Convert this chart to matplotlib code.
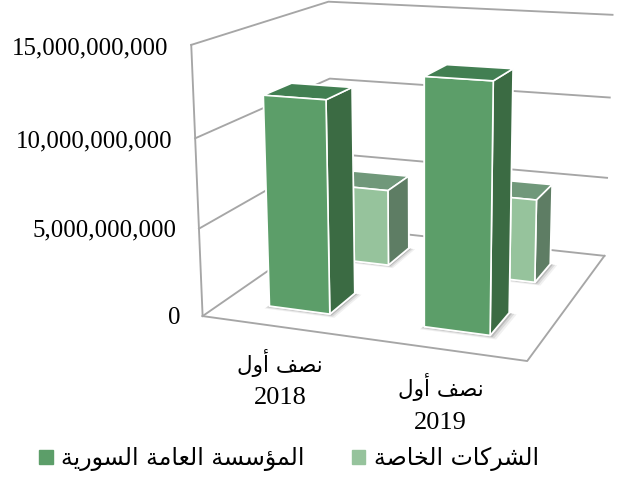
# 3D column chart, two series and two half-year categories.
# Camera values were fitted to the frame corners of the reference.
import matplotlib
matplotlib.use('Agg')
import matplotlib.pyplot as plt
from matplotlib.patches import Patch
from mpl_toolkits.mplot3d import proj3d
from mpl_toolkits.mplot3d.art3d import Poly3DCollection

# Data
periods = ['نصف أول', 'نصف أول']
years = ['2018', '2019']
syrian_corp = [12.0e9, 13.6e9]     # front row
private_cos = [4.7e9, 5.0e9]       # back row
series_names = ['المؤسسة العامة السورية', 'الشركات الخاصة']
z_ticks = [0, 5e9, 10e9, 15e9]
z_labels = ['0', '5,000,000,000', '10,000,000,000', '15,000,000,000']

# Colours: front, top, side
dark = ['#5C9E69', '#427F52', '#3B6B43']
light = ['#96C39C', '#70987A', '#5E7D64']
grid_col = '#A6A6A6'

# Arabic presentation forms: isolated, final, initial, medial.
# matplotlib does no shaping so the joining is done here.
FORMS = {
    'ا': 'ﺍﺎ', 'أ': 'ﺃﺄ', 'ؤ': 'ﺅﺆ', 'و': 'ﻭﻮ', 'ر': 'ﺭﺮ', 'ة': 'ﺓﺔ',
    'ص': 'ﺹﺺﺻﺼ', 'ف': 'ﻑﻒﻓﻔ', 'ل': 'ﻝﻞﻟﻠ', 'م': 'ﻡﻢﻣﻤ', 'ن': 'ﻥﻦﻧﻨ',
    'س': 'ﺱﺲﺳﺴ', 'ع': 'ﻉﻊﻋﻌ', 'ي': 'ﻱﻲﻳﻴ', 'ش': 'ﺵﺶﺷﺸ', 'ك': 'ﻙﻚﻛﻜ',
    'ت': 'ﺕﺖﺗﺘ', 'خ': 'ﺥﺦﺧﺨ',
}

def shape(text):
    out = []
    for i, ch in enumerate(text):
        if ch not in FORMS:
            out.append(ch)
            continue
        prev = text[i-1] if i > 0 else ' '
        nxt = text[i+1] if i < len(text)-1 else ' '
        join_prev = prev in FORMS and len(FORMS[prev]) == 4
        join_next = nxt in FORMS and len(FORMS[ch]) == 4
        idx = (1 if join_prev else 0) + (2 if join_next else 0)
        out.append(FORMS[ch][idx])
    return ''.join(out)[::-1]

plt.rcParams['font.family'] = ['Liberation Serif', 'DejaVu Sans']

fig = plt.figure(figsize=(6.17, 4.79), dpi=100)
ax = fig.add_axes([79.2/617, 78.14/479, 1, 1], projection='3d', computed_zorder=False)
ax.set_xticks([])
ax.set_yticks([])
ax.set_zticks([])
ax.set_axis_off()
ax.view_init(14.0079, -69.0235, 0.3201)
ax.set_proj_type('persp', focal_length=0.5258)
ax.set_box_aspect((3.9161, 3.8068, 3.2007))
ax.set_xlim(0.7119-1, 0.7119+1)
ax.set_ylim(1.3891-1, 1.3891+1)
ax.set_zlim((6.7319-7.5)*1e9, (6.7319+7.5)*1e9)

x_max = len(years)
y_max = len(series_names)
z_max = z_ticks[-1]

# walls and floor
line_kw = dict(color=grid_col, lw=1.35, zorder=1)
for z in z_ticks:
    ax.plot([0, 0, x_max], [0, y_max, y_max], [z, z, z], **line_kw)
ax.plot([0, 0], [0, 0], [0, z_max], **line_kw)
ax.plot([0, x_max, x_max], [0, 0, y_max], [0, 0, 0], **line_kw)

bar_w = 0.4
order = 2

def draw_series(values, row, cols):
    for i, v in enumerate(values):
        x0 = i + 0.5 - bar_w/2
        y0 = row + 0.5 - bar_w/2
        # soft shadow on the floor
        for grow, a in [(0.05, 0.06), (0.035, 0.09), (0.02, 0.14)]:
            x1, x2 = x0 - grow*0.2, x0 + bar_w + grow
            y1, y2 = y0 - grow, y0 + bar_w - grow*0.2
            ax.add_collection3d(Poly3DCollection(
                [[(x1, y1, 0), (x2, y1, 0), (x2, y2, 0), (x1, y2, 0)]],
                facecolor='black', edgecolor='none', alpha=a, zorder=order))
        # faces: bottom, top, front, back, left, right
        face_cols = [cols[0], cols[1], cols[0], cols[2], cols[0], cols[2]]
        bar = ax.bar3d(x0, y0, 0, bar_w, bar_w, v, color=face_cols, shade=False,
                       edgecolor='white', linewidth=1.2, zsort='max')
        bar.set_zorder(order + 1)

draw_series(private_cos, 1, light)
order = 4
draw_series(syrian_corp, 0, dark)

# labels are anchored on a 3D point but drawn as plain 2D text
def label_at(x, y, z, s, **kw):
    xp, yp, _ = proj3d.proj_transform(x, y, z, ax.get_proj())
    ax.text2D(xp, yp, s, transform=ax.transData, color='black', **kw)

for z, lab in zip(z_ticks, z_labels):
    label_at(-0.15, 0, z - 0.27e9, lab, ha='right', va='center', fontsize=17.9)

for i, (per, yr) in enumerate(zip(periods, years)):
    label_at(i + 0.5, 0, -2.1e9, shape(per), ha='center', va='center',
             fontsize=15.5, family='DejaVu Sans')
    label_at(i + 0.5, 0, -4.1e9, yr, ha='center', va='center', fontsize=19)

handles = [Patch(color=dark[0]), Patch(color=light[0])]
fig.legend(handles, [shape(s) for s in series_names], ncols=2, frameon=False,
           loc='center', bbox_to_anchor=(0.468, 0.042), handlelength=0.59, handleheight=0.59,
           columnspacing=2.0, handletextpad=0.34,
           prop={'family': 'DejaVu Sans', 'size': 17})

fig.savefig('out.png', dpi=100)
